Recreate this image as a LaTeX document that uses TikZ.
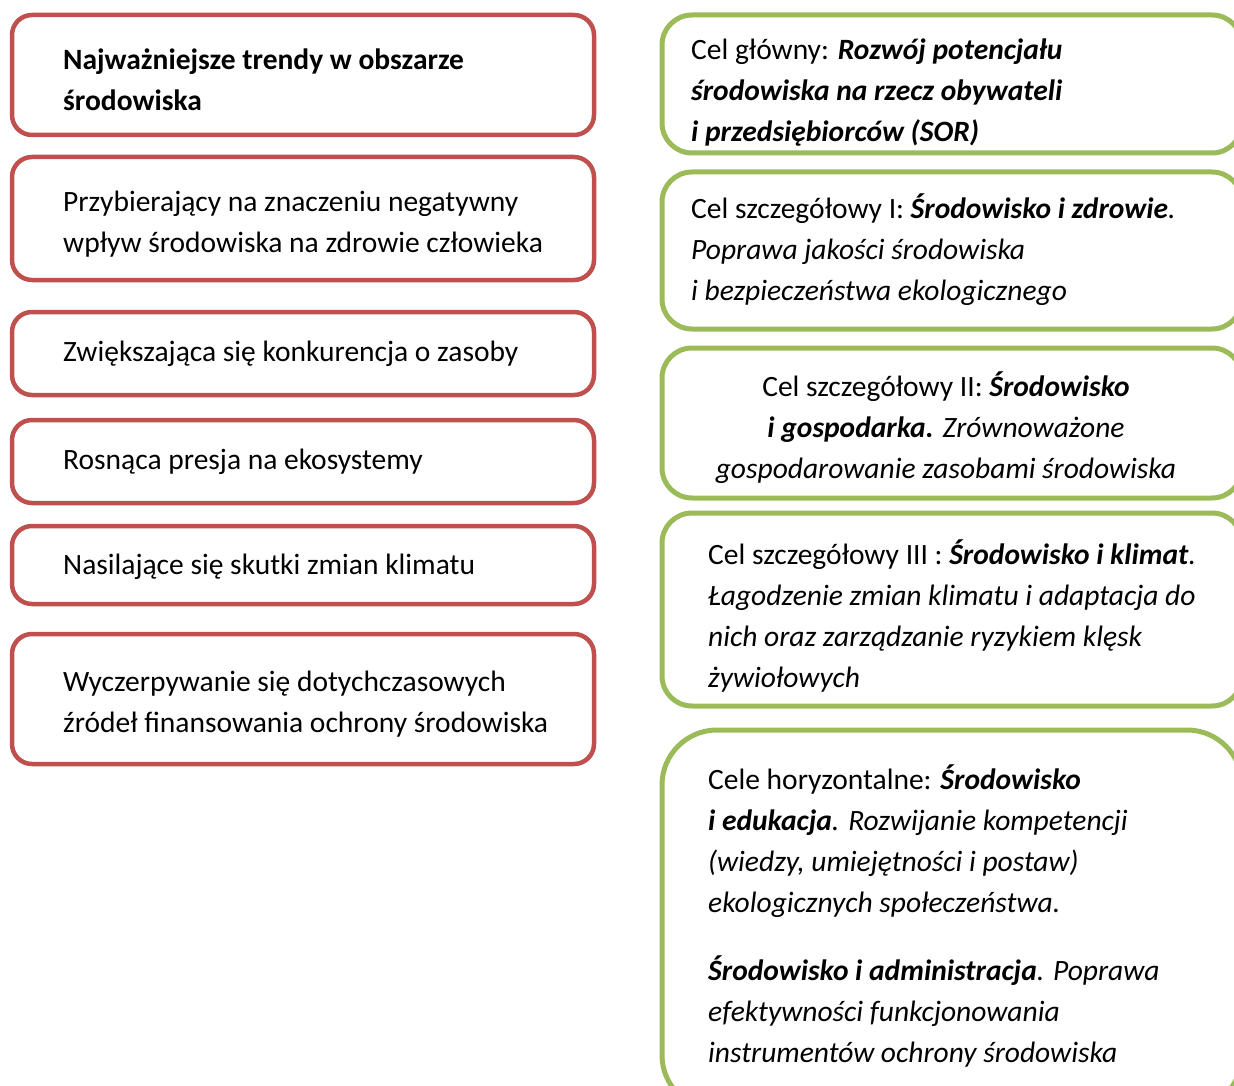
\documentclass[tikz,border=0pt]{standalone}
\usepackage{fontspec}
\setmainfont{Carlito}
\definecolor{boxred}{HTML}{C0504D}
\definecolor{boxgreen}{HTML}{9BBB59}
\tikzset{
  redbox/.style={draw=boxred, line width=4.5pt, rounded corners=20pt, rectangle, inner sep=0pt, minimum width=582pt},
  greenbox/.style={draw=boxgreen, line width=5pt, rounded corners=30pt, rectangle, inner sep=0pt, minimum width=580pt},
  txt/.style={anchor=north west, inner sep=0pt, align=left, font=\fontsize{29.5}{41}\selectfont},
  ctxt/.style={anchor=north, inner sep=0pt, align=center, font=\fontsize{29.5}{41}\selectfont}
}
\newcommand{\bi}[1]{\textbf{\textit{#1}}}
\begin{document}
\begin{tikzpicture}[x=1pt,y=-1pt]
\useasboundingbox (0,0) rectangle (1234,1086);
\clip (0,0) rectangle (1234,1086);
% red boxes
\node[redbox, minimum height=120pt] (r1) at (303,75) {};
\node[redbox, minimum height=123pt] (r2) at (303,218.5) {};
\node[redbox, minimum height=83pt] (r3) at (303,353.5) {};
\node[redbox, minimum height=83pt] (r4) at (303,461.5) {};
\node[redbox, minimum height=78pt] (r5) at (303,565) {};
\node[redbox, minimum height=130pt] (r6) at (303,699) {};
% green boxes
\node[greenbox, minimum height=138pt] (g1) at (952,84) {};
\node[greenbox, minimum height=157pt] (g2) at (952,250.5) {};
\node[greenbox, minimum height=150pt] (g3) at (952,423) {};
\node[greenbox, minimum height=193pt] (g4) at (952,609.5) {};
\node[greenbox, rounded corners=55pt, minimum height=380pt] (g5) at (952,920) {};
% red texts
\node[txt] (t1) at (63,69-28.7) {\strut\textbf{Najważniejsze trendy w obszarze}\\\textbf{środowiska}};
\node[txt] (t2) at (63,211-28.7) {\strut Przybierający na znaczeniu negatywny\\wpływ środowiska na zdrowie człowieka};
\node[txt] (t3) at (63,361-28.7) {\strut Zwiększająca się konkurencja o zasoby};
\node[txt] (t4) at (63,469-28.7) {\strut Rosnąca presja na ekosystemy};
\node[txt] (t5) at (63,574-28.7) {\strut Nasilające się skutki zmian klimatu};
\node[txt] (t6) at (63,691-28.7) {\strut Wyczerpywanie się dotychczasowych\\źródeł finansowania ochrony środowiska};
% green texts
\node[txt] (u1) at (691,59-28.7) {\strut Cel główny: \bi{Rozwój potencjału}\\\bi{środowiska na rzecz obywateli}\\\bi{i przedsiębiorców (SOR)}};
\node[txt] (u2) at (691,218-28.7) {\strut Cel szczegółowy I: \bi{Środowisko i zdrowie}\textit{.}\\\textit{Poprawa jakości środowiska}\\\textit{i bezpieczeństwa ekologicznego}};
\node[ctxt] (u3) at (946,396-28.7) {\strut Cel szczegółowy II: \bi{Środowisko}\\\bi{i gospodarka.} \textit{Zrównoważone}\\\textit{gospodarowanie zasobami środowiska}};
\node[txt] (u4) at (708,564-28.7) {\strut Cel szczegółowy III : \bi{Środowisko i klimat}\textit{.}\\\textit{Łagodzenie zmian klimatu i adaptacja do}\\\textit{nich oraz zarządzanie ryzykiem klęsk}\\\textit{żywiołowych}};
\node[txt] (u5) at (708,789-28.7) {\strut Cele horyzontalne: \bi{Środowisko}\\\bi{i edukacja}\textit{. Rozwijanie kompetencji}\\\textit{(wiedzy, umiejętności i postaw)}\\\textit{ekologicznych społeczeństwa.}};
\node[txt] (u6) at (708,980-28.7) {\strut\bi{Środowisko i administracja}\textit{. Poprawa}\\\textit{efektywności funkcjonowania}\\\textit{instrumentów ochrony środowiska}};
\end{tikzpicture}
\end{document}
